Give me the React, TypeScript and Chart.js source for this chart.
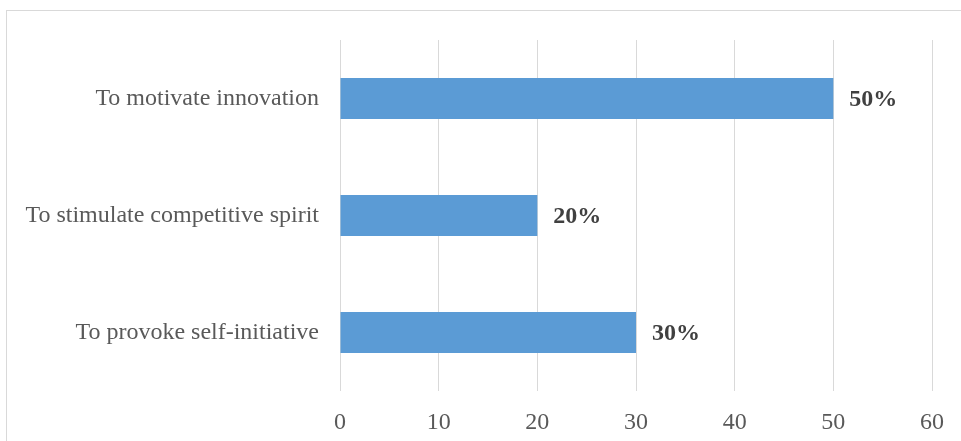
import React, { useEffect, useRef } from "react";
import { Chart, registerables } from "chart.js";

Chart.register(...registerables);

const categories = [
  "To motivate innovation",
  "To stimulate competitive spirit",
  "To provoke self-initiative",
];
const values = [50, 20, 30];
const xTicks = [0, 10, 20, 30, 40, 50, 60];

const FONT = "'Liberation Serif', 'Times New Roman', serif";

const dataLabelPlugin = {
  id: "dataLabels",
  afterDatasetsDraw(chart: any) {
    const ctx = chart.ctx;
    const meta = chart.getDatasetMeta(0);
    ctx.save();
    ctx.font = `bold 24px ${FONT}`;
    ctx.fillStyle = "#404040";
    ctx.textAlign = "left";
    ctx.textBaseline = "middle";
    meta.data.forEach((bar: any, i: number) => {
      ctx.fillText(`${values[i]}%`, bar.x + 16, bar.y + 1);
    });
    ctx.restore();
  },
};

export default function App() {
  const ref = useRef<HTMLCanvasElement | null>(null);

  useEffect(() => {
    if (!ref.current) return;
    const chart = new Chart(ref.current, {
      type: "bar",
      data: {
        labels: categories,
        datasets: [
          {
            data: values,
            backgroundColor: "#5B9BD5",
            borderWidth: 0,
            categoryPercentage: 1,
            barPercentage: 0.35,
          },
        ],
      },
      options: {
        indexAxis: "y",
        animation: false,
        responsive: false,
        maintainAspectRatio: false,
        layout: { padding: { top: 40, right: 27, bottom: 0, left: 0 } },
        plugins: {
          legend: { display: false },
          tooltip: { enabled: false },
        },
        scales: {
          x: {
            min: 0,
            max: 60,
            afterBuildTicks: (scale: any) => {
              scale.ticks = xTicks.map((v) => ({ value: v }));
            },
            afterFit: (scale: any) => {
              scale.height = 50;
            },
            grid: { color: "#d9d9d9", lineWidth: 1, drawTicks: false },
            border: { display: false },
            ticks: {
              padding: 17,
              color: "#595959",
              font: { family: FONT, size: 24 },
            },
          },
          y: {
            afterFit: (scale: any) => {
              scale.width = 340;
            },
            grid: { display: false, drawTicks: false },
            border: { display: false },
            ticks: {
              padding: 21,
              color: "#595959",
              font: { family: FONT, size: 24 },
            },
          },
        },
      },
      plugins: [dataLabelPlugin],
    });
    return () => chart.destroy();
  }, []);

  return (
    <div
      style={{
        position: "fixed",
        left: 0,
        top: 0,
        width: 961,
        height: 441,
        background: "#ffffff",
        overflow: "hidden",
      }}
    >
      <div
        style={{
          position: "absolute",
          left: 6,
          top: 10,
          width: 1000,
          height: 500,
          border: "1px solid #d9d9d9",
          boxSizing: "border-box",
        }}
      />
      <canvas
        ref={ref}
        width={961}
        height={441}
        style={{ position: "absolute", left: 0, top: 0, width: 961, height: 441 }}
      />
    </div>
  );
}
